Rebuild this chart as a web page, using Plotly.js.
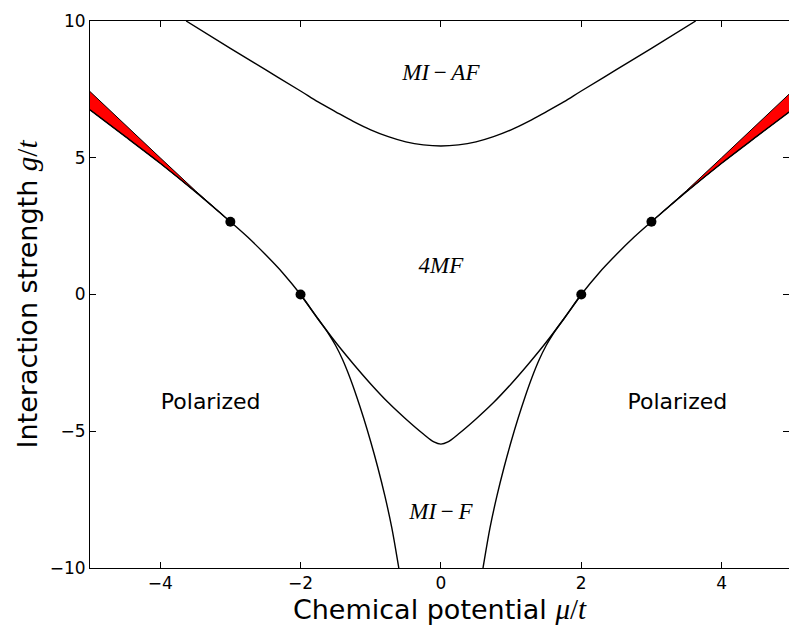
<!DOCTYPE html>
<html>
<head>
<meta charset="utf-8">
<script src="https://cdn.plot.ly/plotly-3.0.1.min.js"></script>
<style>html,body{margin:0;padding:0;background:#fff;}#chart{width:789px;height:628px;}</style>
</head>
<body>
<div id="chart"></div>
<script>
// MI-AF upper boundary
const afX = [-3.63, -3.0, -2.5, -2.0, -1.75, -1.5, -1.25, -1.0, -0.75, -0.5, -0.25, 0, 0.25, 0.5, 0.75, 1.0, 1.25, 1.5, 1.75, 2.0, 2.5, 3.0, 3.63];
const afY = [10, 9.0, 8.22, 7.44, 7.04, 6.68, 6.33, 6.02, 5.77, 5.58, 5.47, 5.43, 5.47, 5.58, 5.77, 6.02, 6.33, 6.68, 7.04, 7.44, 8.22, 9.0, 10];

// 4MF lower boundary (continues as lower edge of red wedges)
const mfX = [-5.0, -4.5, -4.0, -3.5, -3.0, -2.75, -2.5, -2.25, -2.0, -1.75, -1.5, -1.25, -1.0, -0.75, -0.5, -0.25, -0.1, 0, 0.1, 0.25, 0.5, 0.75, 1.0, 1.25, 1.5, 1.75, 2.0, 2.25, 2.5, 2.75, 3.0, 3.5, 4.0, 4.5, 5.0];
const mfY = [6.75, 5.78, 4.8, 3.76, 2.66, 2.09, 1.46, 0.78, 0, -0.895, -1.745, -2.53, -3.27, -3.95, -4.55, -5.1, -5.39, -5.47, -5.39, -5.1, -4.55, -3.95, -3.27, -2.53, -1.745, -0.895, 0, 0.78, 1.46, 2.09, 2.66, 3.76, 4.8, 5.78, 6.75];

// MI-F boundaries
const fLX = [-2.0, -1.75, -1.6, -1.5, -1.4, -1.3, -1.2, -1.1, -1.0, -0.9, -0.8, -0.7, -0.6, -0.58];
const fLY = [0, -0.895, -1.435, -1.865, -2.385, -3.015, -3.735, -4.525, -5.385, -6.315, -7.345, -8.525, -10.0, -10.3];
const fRX = [2.0, 1.75, 1.6, 1.5, 1.4, 1.3, 1.2, 1.1, 1.0, 0.9, 0.8, 0.7, 0.6, 0.58];
const fRY = [0, -0.895, -1.435, -1.865, -2.385, -3.015, -3.735, -4.525, -5.385, -6.315, -7.345, -8.525, -10.0, -10.3];

// red wedges: upper edge and lower edge
const wLupX = [-5.0, -4.5, -4.0, -3.5, -3.0];
const wLupY = [7.42, 6.2, 5.0, 3.8, 2.66];
const wLloX = [-3.0, -3.5, -4.0, -4.5, -5.0];
const wLloY = [2.66, 3.76, 4.8, 5.78, 6.75];
const wRupX = [5.0, 4.5, 4.0, 3.5, 3.0];
const wRupY = [7.42, 6.2, 5.0, 3.8, 2.66];
const wRloX = [3.0, 3.5, 4.0, 4.5, 5.0];
const wRloY = [2.66, 3.76, 4.8, 5.78, 6.75];

// special points
const dotX = [-3, -2, 2, 3];
const dotY = [2.66, 0, 0, 2.66];

// region labels
const labelText = ['<i>MI</i>\u2009−\u2009<i>AF</i>', '<i>4MF</i>', '<i>MI</i>\u2009−\u2009<i>F</i>'];
const labelX = [0, 0, 0];
const labelY = [8.06, 1.0, -8.0];
const polText = ['Polarized', 'Polarized'];
const polX = [-3.28, 3.37];
const polY = [-4.0, -4.0];

const blackLine = {color: '#000', width: 1.4};
const traces = [
  {x: wLupX.concat(wLloX), y: wLupY.concat(wLloY), mode: 'lines', fill: 'toself', fillcolor: '#ff0000', line: {color: '#000', width: 1}, hoverinfo: 'skip'},
  {x: wRupX.concat(wRloX), y: wRupY.concat(wRloY), mode: 'lines', fill: 'toself', fillcolor: '#ff0000', line: {color: '#000', width: 1}, hoverinfo: 'skip'},
  {x: afX, y: afY, mode: 'lines', line: Object.assign({shape: 'spline', smoothing: 1}, blackLine)},
  {x: mfX, y: mfY, mode: 'lines', line: Object.assign({shape: 'spline', smoothing: 1}, blackLine)},
  {x: fLX, y: fLY, mode: 'lines', line: Object.assign({shape: 'spline', smoothing: 1}, blackLine)},
  {x: fRX, y: fRY, mode: 'lines', line: Object.assign({shape: 'spline', smoothing: 1}, blackLine)},
  {x: dotX, y: dotY, mode: 'markers', marker: {color: '#000', size: 10}},
  {x: labelX, y: labelY, mode: 'text', text: labelText, textposition: 'middle center', textfont: {family: 'Liberation Serif, serif', size: 23, color: '#000'}},
  {x: polX, y: polY, mode: 'text', text: polText, textposition: 'middle center', textfont: {family: 'DejaVu Sans, sans-serif', size: 22, color: '#000'}}
];

const axisCommon = {
  showgrid: false, zeroline: false, showline: true, linecolor: '#000', linewidth: 1,
  mirror: 'allticks', ticks: 'inside', ticklen: 6, tickwidth: 1, tickcolor: '#000',
  tickfont: {family: 'DejaVu Sans, sans-serif', size: 17, color: '#000'}
};

const layout = {
  width: 789, height: 628,
  margin: {l: 90, r: 0, t: 21, b: 60},
  paper_bgcolor: '#fff', plot_bgcolor: '#fff',
  showlegend: false,
  xaxis: Object.assign({}, axisCommon, {
    range: [-5, 4.96], tickvals: [-4, -2, 0, 2, 4],
    title: {text: 'Chemical potential <span style="font-family:Liberation Serif;font-size:29px"><i>μ</i>/<i>t</i></span>', font: {family: 'DejaVu Sans, sans-serif', size: 27, color: '#000'}, standoff: 4}
  }),
  yaxis: Object.assign({}, axisCommon, {
    range: [-10, 10], tickvals: [-10, -5, 0, 5, 10],
    title: {text: 'Interaction strength <span style="font-family:Liberation Serif;font-size:29px"><i>g</i>/<i>t</i></span>', font: {family: 'DejaVu Sans, sans-serif', size: 27, color: '#000'}, standoff: 4}
  })
};

Plotly.newPlot('chart', traces, layout, {staticPlot: true, displayModeBar: false});
</script>
</body>
</html>
